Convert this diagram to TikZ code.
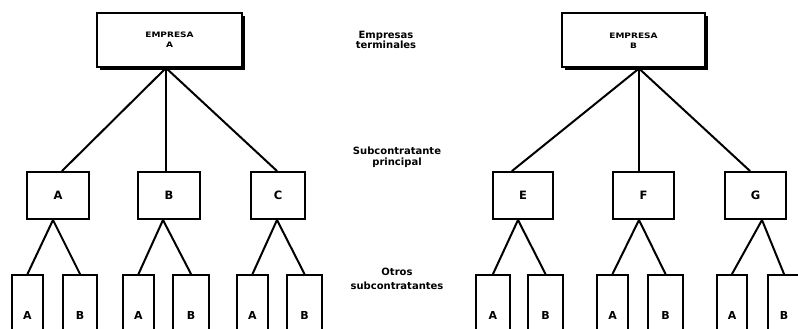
\documentclass[tikz,border=0pt]{standalone}
\usepackage{fontspec}
\setmainfont{DejaVu Sans}
\usepackage{graphicx}
\usetikzlibrary{shadows}
\newcommand{\wide}[1]{\scalebox{1.2}[1]{#1}}
\begin{document}
\begin{tikzpicture}[x=1pt,y=-1pt,
  link/.style={line width=2pt, line cap=round},
  firm/.style={draw, line width=2pt, fill=white, minimum width=145pt,
    minimum height=54pt, inner sep=0pt, align=center,
    drop shadow={shadow xshift=3pt, shadow yshift=-3pt, fill=black, opacity=1},
    font=\bfseries\fontsize{7.5}{10}\selectfont},
  tier/.style={draw, line width=2pt, minimum height=47pt, inner sep=0pt,
    font=\bfseries\fontsize{11.5}{12}\selectfont},
  sub/.style={draw, line width=2pt, minimum height=80pt, inner sep=0pt,
    font=\bfseries\fontsize{11}{12}\selectfont},
  lbl/.style={align=center, font=\bfseries\fontsize{10}{10.5}\selectfont}
]
\useasboundingbox (0,0) rectangle (798,329);
\clip (0,0) rectangle (798,329);

% terminal firms
\node[firm] (firmA) at (169.5,40) {\wide{EMPRESA}\\\wide{A}};
\node[firm, minimum width=143pt] (firmB) at (633.5,40.5) {\wide{EMPRESA}\\\wide{B}};

% principal subcontractors
\node[tier, minimum width=62pt] (A) at (58,195.5) {A};
\node[tier, minimum width=62pt] (B) at (169,195.5) {B};
\node[tier, minimum width=54pt] (C) at (278,195.5) {C};
\node[tier, minimum width=60pt] (E) at (523,195.5) {E};
\node[tier, minimum width=61pt] (F) at (643.5,195.5) {F};
\node[tier, minimum width=61pt] (G) at (755.5,195.5) {G};

% further subcontractors (boxes run off the lower edge)
\node[sub, minimum width=31pt] (AA) at (27.5,315) {A};
\node[sub, minimum width=34pt] (AB) at (80,315) {B};
\node[sub, minimum width=31pt] (BA) at (138.5,315) {A};
\node[sub, minimum width=36pt] (BB) at (191,315) {B};
\node[sub, minimum width=31pt] (CA) at (252.5,315) {A};
\node[sub, minimum width=35pt] (CB) at (304.5,315) {B};
\node[sub, minimum width=34pt] (EA) at (493,315) {A};
\node[sub, minimum width=35pt] (EB) at (545.5,315) {B};
\node[sub, minimum width=31pt] (FA) at (612.5,315) {A};
\node[sub, minimum width=35pt] (FB) at (665.5,315) {B};
\node[sub, minimum width=30pt] (GA) at (732,315) {A};
\node[sub, minimum width=32pt] (GB) at (784,315) {B};

% level captions
\node[lbl] (cap1) at (386,40) {Empresas\\terminales};
\node[lbl, font=\bfseries\fontsize{10}{11.5}\selectfont] (cap2) at (397,157) {Subcontratante\\principal};
\node[lbl, font=\bfseries\fontsize{10}{14}\selectfont] (cap3) at (397,279) {Otros\\subcontratantes};

% firm A tree
\draw[link] ([xshift=-3.5pt]firmA.south) -- ([xshift=4pt]A.north);
\draw[link] ([xshift=-3.5pt]firmA.south) -- ([xshift=-3pt]B.north);
\draw[link] ([xshift=-3.5pt]firmA.south) -- ([xshift=-1pt]C.north);
\draw[link] ([xshift=-5pt]A.south) -- (AA.north);
\draw[link] ([xshift=-5pt]A.south) -- (AB.north);
\draw[link] ([xshift=-6pt]B.south) -- (BA.north);
\draw[link] ([xshift=-6pt]B.south) -- (BB.north);
\draw[link] ([xshift=-1pt]C.south) -- (CA.north);
\draw[link] ([xshift=-1pt]C.south) -- (CB.north);

% firm B tree
\draw[link] ([xshift=5.5pt]firmB.south) -- ([xshift=-11pt]E.north);
\draw[link] ([xshift=5.5pt]firmB.south) -- ([xshift=-4.5pt]F.north);
\draw[link] ([xshift=5.5pt]firmB.south) -- ([xshift=-5.5pt]G.north);
\draw[link] ([xshift=-5pt]E.south) -- (EA.north);
\draw[link] ([xshift=-5pt]E.south) -- (EB.north);
\draw[link] ([xshift=-4.5pt]F.south) -- (FA.north);
\draw[link] ([xshift=-4.5pt]F.south) -- (FB.north);
\draw[link] ([xshift=6.5pt]G.south) -- (GA.north);
\draw[link] ([xshift=6.5pt]G.south) -- (GB.north);
\end{tikzpicture}
\end{document}
